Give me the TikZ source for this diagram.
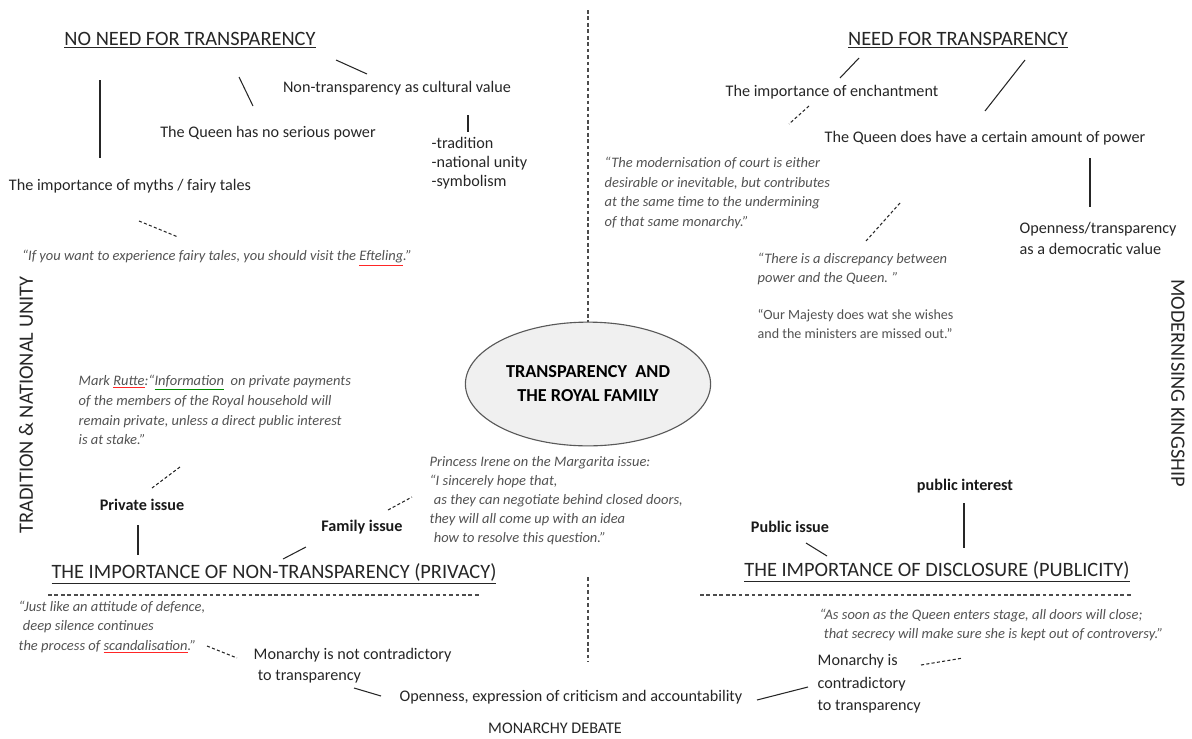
\documentclass[tikz,border=0pt]{standalone}
\usepackage{fontspec}
\setmainfont{Carlito}
\usetikzlibrary{shapes.geometric}
\newcommand{\spellmark}[2]{{\color{#1}\underline{{\color{black!68}#2}}}}
\tikzstyle{edge}=[line width=0.75pt, draw=black!85]
\tikzstyle{dotedge}=[edge, dash pattern=on 2.2pt off 1.6pt]
\tikzstyle{divider}=[line width=0.8pt, draw=black!70,
                     dash pattern=on 2.6pt off 2pt]
\tikzstyle{term}=[inner sep=1pt, text=black!85, align=left,
                  font=\fontsize{11.5}{15}\selectfont]
\tikzstyle{quote}=[inner sep=1pt, text=black!68, align=left,
                   font=\fontsize{10.3}{14}\selectfont\itshape]
\tikzstyle{issue}=[inner sep=1pt, text=black!90,
                   font=\fontsize{11.5}{14}\selectfont\bfseries]
\tikzstyle{head}=[inner sep=1pt, text=black!85,
                  font=\fontsize{14.5}{17}\selectfont]
\tikzstyle{core}=[ellipse, draw=black!65, fill=black!6, line width=0.8pt,
                  minimum width=150pt, minimum height=88pt, align=center,
                  font=\fontsize{13}{17}\selectfont\bfseries]

\begin{document}
\begin{tikzpicture}[x=0.025cm, y=-0.025cm]
  \useasboundingbox (0,0) rectangle (1192,738);

  % centre
  \node (core) at (588,384) [core] {TRANSPARENCY\ \ AND\\THE ROYAL FAMILY};

  % no need for transparency
  \node (nnt)    at (190,40)  [head] {\underline{NO NEED FOR TRANSPARENCY}};
  \node (nt)     at (397,88)  [term] {Non-transparency as cultural value};
  \node (qn)     at (268,133) [term] {The Queen has no serious power};
  \node (myth)   at (130,186) [term] {The importance of myths / fairy tales};
  \node (trad)   at (430,163) [term, anchor=west, font=\fontsize{11.5}{13.5}\selectfont]
        {-tradition\\-national unity\\-symbolism};
  \node (qfairy) at (217,258) [quote]
        {“If you want to experience fairy tales, you should visit the \spellmark{red!85}{Efteling}.”};

  % need for transparency
  \node (nft)   at (958,40)  [head] {\underline{NEED FOR TRANSPARENCY}};
  \node (ench)  at (832,92)  [term] {The importance of enchantment};
  \node (qdp)   at (985,138) [term] {The Queen does have a certain amount of power};
  \node (open)  at (1018,238) [term, anchor=west] {Openness/transparency\\as a democratic value};
  \node (qmod)  at (603,193) [quote, anchor=west]
        {“The modernisation of court is either\\desirable or inevitable, but contributes\\at the same time to the undermining\\of that same monarchy.”};
  \node (qdisc) at (756,269) [quote, anchor=west]
        {“There is a discrepancy between\\power and the Queen. ”};
  \node (qmaj)  at (756,324) [quote, anchor=west, font=\fontsize{10}{14}\selectfont]
        {“Our Majesty does wat she wishes\\ and the ministers are missed out.”};

  % privacy and publicity
  \node (rutte) at (77,410)  [quote, anchor=west]
        {Mark \spellmark{red!85}{Rutte}:“\spellmark{green!55!black}{Information}\ \ on private payments\\of the members of the Royal household will\\remain private, unless a direct public interest\\is at stake.”};
  \node (priv)  at (142,505) [issue] {Private issue};
  \node (fam)   at (362,527) [issue] {Family issue};
  \node (irene) at (428,501) [quote, anchor=west, font=\fontsize{10.3}{13.5}\selectfont\itshape]
        {Princess Irene on the Margarita issue:\\“I sincerely hope that,\\\hspace{3pt}as they can negotiate behind closed doors,\\they will all come up with an idea\\\hspace{3pt}how to resolve this question.”};
  \node (pubi)  at (790,527) [issue] {Public issue};
  \node (pint)  at (965,486) [issue] {public interest};
  \node (hnt)   at (274,574) [head] {\underline{THE IMPORTANCE OF NON-TRANSPARENCY (PRIVACY)}};
  \node (hd)    at (937,572) [head] {\underline{THE IMPORTANCE OF DISCLOSURE (PUBLICITY)}};

  % monarchy debate
  \node (qjust) at (17,627)  [quote, anchor=west]
        {“Just like an attitude of defence,\\\hspace{3pt}deep silence continues\\the process of \spellmark{red!85}{scandalisation}.”};
  \node (mnc)   at (252,666) [term, anchor=west] {Monarchy is not contradictory\\\hspace{3pt}to transparency};
  \node (oec)   at (571,697) [term] {Openness, expression of criticism and accountability};
  \node (mc)    at (816,684) [term, anchor=west, font=\fontsize{11.5}{16}\selectfont]
        {Monarchy is\\contradictory\\to transparency};
  \node (qsoon) at (818,625) [quote, anchor=west]
        {“As soon as the Queen enters stage, all doors will close;\\\hspace{3pt}that secrecy will make sure she is kept out of controversy.”};
  \node (mdeb)  at (555,728) [term] {MONARCHY DEBATE};

  % side labels
  \node (tnu) at (26,405)   [head, rotate=90]  {TRADITION \& NATIONAL UNITY};
  \node (mk)  at (1178,383) [head, rotate=-90] {MODERNISING KINGSHIP};

  % dividers
  \coordinate (ctop) at (588,10);
  \coordinate (cbot) at (588,662);
  \draw [divider] (ctop) -- (core.north);
  \draw [divider, shorten <=93pt] (core.south) -- (cbot);
  \draw [divider] ([shift={(-226,21)}]hnt.center) -- ([shift={(206,21)}]hnt.center);
  \draw [divider] ([shift={(-237,23)}]hd.center) -- ([shift={(194,23)}]hd.center);

  \foreach \u/\ax/\ay/\v/\bx/\by in {nnt.center/146/20/nt.center/-30/-14,
      nnt.center/49/37/qn.center/-15/-27, nnt.center/-90/40/myth.center/-30/-28,
      nt.center/71/27/trad.west/38/-31, nft.center/-99/18/ench.center/8/-14,
      nft.center/67/20/qdp.center/0/-27, qdp.center/105/20/open.west/72/-31,
      priv.center/-4/20/hnt.center/-136/-19, fam.center/-56/20/hnt.center/9/-15,
      pubi.center/16/16/hd.center/-110/-16, pint.center/-1/17/hd.center/27/-24,
      mnc.west/102/22/oec.center/-190/-1, oec.center/186/3/mc.west/-8/3}
    \draw [edge] ([shift={(\ax,\ay)}]\u) -- ([shift={(\bx,\by)}]\v);

  \foreach \u/\ax/\ay/\v/\bx/\by in {myth.center/9/35/qfairy.center/-39/-21,
      ench.center/-23/14/qmod.west/186/-69, qdp.center/-85/65/qdisc.west/110/-28,
      rutte.west/103/57/priv.center/10/-17, fam.center/26/-17/irene.west/-16/-4,
      qjust.west/190/19/mnc.west/-15/-8, mc.west/105/-19/qsoon.west/145/33}
    \draw [dotedge] ([shift={(\ax,\ay)}]\u) -- ([shift={(\bx,\by)}]\v);
\end{tikzpicture}
\end{document}
